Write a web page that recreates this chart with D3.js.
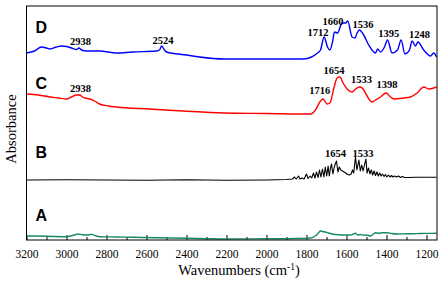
<!DOCTYPE html>
<html>
<head>
<meta charset="utf-8">
<script src="https://cdn.jsdelivr.net/npm/d3@7"></script>
<style>
  body { margin: 0; background: #fff; overflow: hidden; }
  svg { display: block; }
  .tick text { font-family: "Liberation Serif", "Times New Roman", serif; font-size: 11.5px; fill: #000; }
  .peak { font-family: "Liberation Serif", "Times New Roman", serif; font-size: 10.5px; font-weight: bold; }
  .letter { font-family: "Liberation Sans", Arial, sans-serif; font-size: 16px; font-weight: bold; }
  .axis-label { font-family: "Liberation Serif", "Times New Roman", serif; font-size: 14.5px; }
</style>
</head>
<body>
<div id="chart"></div>
<script>
// Spectra: [wavenumber (cm-1), absorbance (a.u., offset)]
const spectrumA = [
  [3200, 0.04], [3100, 0.038], [3000, 0.033], [2960, 0.05], [2945, 0.06], [2920, 0.052],
  [2900, 0.05], [2875, 0.056], [2850, 0.04], [2835, 0.033], [2750, 0.03], [2670, 0.027],
  [2550, 0.022], [2400, 0.017], [2300, 0.013], [2215, 0.01], [2000, 0.012], [1850, 0.015],
  [1780, 0.02], [1760, 0.035], [1750, 0.05], [1740, 0.07], [1730, 0.09], [1720, 0.085],
  [1705, 0.08], [1690, 0.07], [1665, 0.057], [1640, 0.052], [1610, 0.05], [1580, 0.05],
  [1565, 0.06], [1555, 0.067], [1545, 0.05], [1530, 0.055], [1515, 0.047], [1500, 0.05],
  [1480, 0.04], [1465, 0.06], [1455, 0.073], [1440, 0.068], [1420, 0.072], [1397, 0.073],
  [1375, 0.065], [1347, 0.06], [1300, 0.062], [1250, 0.064], [1200, 0.066], [1150, 0.067]
];

const spectrumB = [
  [3200, 0.60], [3000, 0.603], [2800, 0.60], [2600, 0.598], [2400, 0.602], [2200, 0.597],
  [2000, 0.60], [1900, 0.605], [1870, 0.61], [1860, 0.63], [1852, 0.61], [1840, 0.64],
  [1832, 0.61], [1822, 0.62], [1812, 0.61], [1800, 0.66], [1792, 0.615], [1782, 0.64],
  [1774, 0.62], [1765, 0.67], [1758, 0.62], [1750, 0.68], [1742, 0.625], [1735, 0.70],
  [1728, 0.63], [1720, 0.71], [1713, 0.63], [1706, 0.73], [1699, 0.64], [1692, 0.74],
  [1686, 0.64], [1680, 0.72], [1675, 0.76], [1668, 0.66], [1660, 0.74], [1650, 0.79],
  [1643, 0.68], [1636, 0.73], [1628, 0.70], [1620, 0.69], [1612, 0.68], [1604, 0.67],
  [1595, 0.655], [1585, 0.65], [1577, 0.66], [1570, 0.70], [1564, 0.67], [1555, 0.83],
  [1548, 0.70], [1538, 0.80], [1531, 0.69], [1524, 0.75], [1517, 0.69], [1503, 0.81],
  [1497, 0.67], [1490, 0.72], [1483, 0.66], [1476, 0.70], [1469, 0.65], [1462, 0.69],
  [1455, 0.645], [1448, 0.68], [1441, 0.64], [1434, 0.67], [1427, 0.64], [1420, 0.66],
  [1412, 0.635], [1405, 0.655], [1398, 0.63], [1390, 0.65], [1382, 0.63], [1375, 0.645],
  [1368, 0.63], [1360, 0.64], [1350, 0.63], [1340, 0.64], [1330, 0.625], [1320, 0.635],
  [1310, 0.625], [1290, 0.625], [1250, 0.627], [1200, 0.627], [1150, 0.627]
];

const spectrumC = [
  [3200, 1.46], [3140, 1.45], [3083, 1.43], [3040, 1.42], [3000, 1.41], [2975, 1.43],
  [2950, 1.45], [2935, 1.45], [2920, 1.43], [2908, 1.42], [2883, 1.41], [2860, 1.39],
  [2835, 1.36], [2790, 1.34], [2750, 1.33], [2585, 1.31], [2418, 1.29], [2215, 1.27],
  [2000, 1.265], [1780, 1.26], [1755, 1.30], [1730, 1.39], [1717, 1.41], [1697, 1.36],
  [1683, 1.37], [1663, 1.52], [1647, 1.62], [1633, 1.63], [1617, 1.57], [1597, 1.51],
  [1572, 1.48], [1555, 1.51], [1533, 1.53], [1517, 1.51], [1500, 1.45], [1472, 1.38],
  [1455, 1.40], [1430, 1.43], [1402, 1.47], [1380, 1.43], [1360, 1.41], [1313, 1.42],
  [1280, 1.43], [1247, 1.47], [1214, 1.53], [1188, 1.51], [1150, 1.53]
];

const spectrumD = [
  [3200, 1.87], [3160, 1.89], [3125, 1.93], [3100, 1.92], [3083, 1.91], [3050, 1.93],
  [3025, 1.94], [3000, 1.935], [2975, 1.92], [2950, 1.905], [2938, 1.92], [2925, 1.90],
  [2900, 1.89], [2835, 1.89], [2750, 1.87], [2670, 1.88], [2550, 1.89], [2535, 1.90],
  [2524, 1.94], [2510, 1.90], [2500, 1.88], [2400, 1.85], [2335, 1.83], [2215, 1.81],
  [2000, 1.81], [1815, 1.81], [1775, 1.83], [1745, 1.87], [1730, 1.90], [1712, 2.03],
  [1695, 1.93], [1683, 1.90], [1670, 1.98], [1660, 2.08], [1645, 2.07], [1622, 2.17],
  [1605, 2.17], [1594, 2.19], [1572, 2.03], [1558, 2.02], [1547, 2.07], [1536, 2.10],
  [1514, 2.05], [1489, 1.95], [1455, 1.87], [1444, 1.91], [1430, 1.88], [1410, 1.93],
  [1395, 2.00], [1372, 1.87], [1345, 1.90], [1327, 2.00], [1308, 1.86], [1285, 1.90],
  [1272, 1.99], [1255, 1.94], [1243, 1.98], [1214, 1.90], [1180, 1.84], [1164, 1.87],
  [1150, 1.83]
];

const seriesNames = ["A", "B", "C", "D"];
const seriesColors = ["#168a5e", "#000000", "#ff0000", "#0000ff"];
const seriesLetterY = [0.19, 0.824, 1.51, 2.07];

// Peak annotations: [series, text, label wavenumber, label baseline absorbance]
const peakLabels = [
  ["D", "2938", 2930, 1.955], ["D", "2524", 2517, 1.96], ["D", "1712", 1743, 2.045],
  ["D", "1660", 1668, 2.15], ["D", "1536", 1517, 2.125], ["D", "1395", 1389, 2.03],
  ["D", "1248", 1235, 2.02],
  ["C", "2938", 2930, 1.48], ["C", "1716", 1734, 1.46], ["C", "1654", 1663, 1.665],
  ["C", "1533", 1525, 1.57], ["C", "1398", 1397, 1.525],
  ["B", "1654", 1655, 0.83], ["B", "1533", 1517, 0.83]
];

const majorTicks = [3200, 3000, 2800, 2600, 2400, 2200, 2000, 1800, 1600, 1400, 1200];
const minorTicks = [3100, 2900, 2700, 2500, 2300, 2100, 1900, 1700, 1500, 1300];

const width = 447;
const height = 283;
const margin = { top: 6, right: 10, bottom: 43, left: 26.5 };
const innerWidth = width - margin.left - margin.right;
const innerHeight = height - margin.top - margin.bottom;

const svg = d3.select("#chart")
  .append("svg")
    .attr("width", width)
    .attr("height", height);

const innerChart = svg
  .append("g")
    .attr("transform", `translate(${margin.left}, ${margin.top})`);

// Scales
const xScale = d3.scaleLinear()
  .domain([3200, 1147.5])
  .range([0, innerWidth]);

const yScale = d3.scaleLinear()
  .domain([0, 2.34])
  .range([innerHeight, 0]);

// Bottom axis, ticks pointing inward
innerChart
  .append("g")
    .attr("class", "axis-x")
    .attr("transform", `translate(0, ${innerHeight})`)
    .call(d3.axisBottom(xScale).tickValues(majorTicks).tickSize(-5).tickPadding(10).tickFormat(d3.format("d")))
    .call(g => g.select(".domain").remove());

innerChart
  .append("g")
    .attr("class", "axis-x-minor")
    .attr("transform", `translate(0, ${innerHeight})`)
    .call(d3.axisBottom(xScale).tickValues(minorTicks).tickSize(-3).tickFormat(""))
    .call(g => g.select(".domain").remove());

innerChart.selectAll(".tick line").attr("stroke", "#000");

// Spectra
const spectra = [spectrumA, spectrumB, spectrumC, spectrumD];
const lineSmooth = d3.line()
  .x(d => xScale(d[0]))
  .y(d => yScale(d[1]))
  .curve(d3.curveMonotoneX);
const lineSharp = d3.line()
  .x(d => xScale(d[0]))
  .y(d => yScale(d[1]));

innerChart
  .selectAll(".spectrum")
  .data(spectra)
  .join("path")
    .attr("class", "spectrum")
    .attr("fill", "none")
    .attr("stroke", (d, i) => seriesColors[i])
    .attr("stroke-width", (d, i) => i === 1 ? 1.1 : 1.4)
    .attr("stroke-linejoin", "round")
    .attr("d", (d, i) => i === 1 ? lineSharp(d) : lineSmooth(d));

// Series letters
innerChart
  .selectAll(".letter")
  .data(seriesNames)
  .join("text")
    .attr("class", "letter")
    .attr("x", 9)
    .attr("y", (d, i) => yScale(seriesLetterY[i]))
    .text(d => d);

// Peak labels
innerChart
  .selectAll(".peak")
  .data(peakLabels)
  .join("text")
    .attr("class", "peak")
    .attr("text-anchor", "middle")
    .attr("x", d => xScale(d[2]))
    .attr("y", d => yScale(d[3]))
    .text(d => d[1]);

// Frame
innerChart
  .append("rect")
    .attr("width", innerWidth)
    .attr("height", innerHeight)
    .attr("fill", "none")
    .attr("stroke", "#000")
    .attr("stroke-width", 1);

// Axis labels
const xLabel = svg
  .append("text")
    .attr("class", "axis-label")
    .attr("text-anchor", "middle")
    .attr("x", 239)
    .attr("y", 275);
xLabel.append("tspan").text("Wavenumbers (cm");
xLabel.append("tspan").attr("dy", -5).attr("font-size", "9.5px").text("-1");
xLabel.append("tspan").attr("dy", 5).text(")");

svg
  .append("text")
    .attr("class", "axis-label")
    .attr("text-anchor", "middle")
    .attr("font-size", "14px")
    .attr("transform", "translate(16, 129) rotate(-90)")
    .text("Absorbance");
</script>
</body>
</html>
